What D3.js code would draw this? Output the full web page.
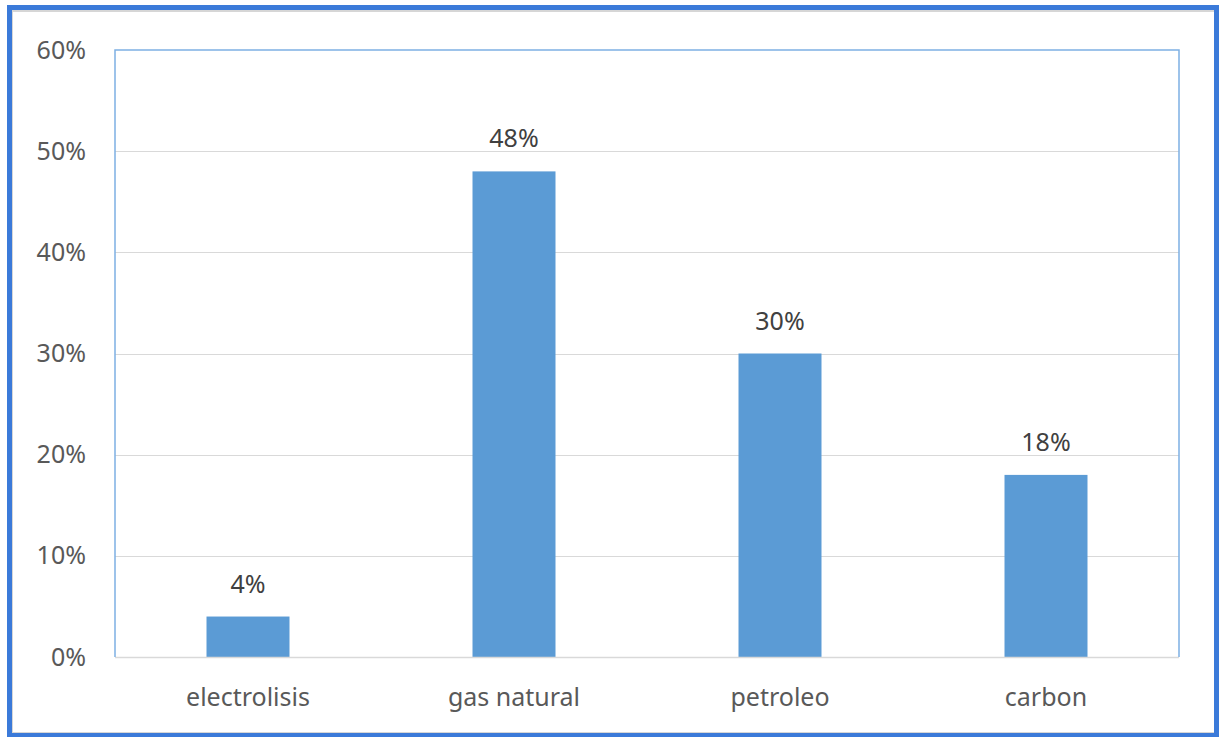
<!DOCTYPE html>
<html>
<head>
<meta charset="utf-8">
<script src="https://cdn.jsdelivr.net/npm/d3@7"></script>
<style>
  html, body { margin: 0; padding: 0; background: #fff; }
  svg { display: block; }
  text { font-family: "Noto Sans", "Open Sans", sans-serif; }
</style>
</head>
<body>
<div id="chart"></div>
<script>
// datos del grafico
var categories = ['electrolisis', 'gas natural', 'petroleo', 'carbon'];
var values = [4, 48, 30, 18];
var yTicks = [0, 10, 20, 30, 40, 50, 60];

var W = 1220, H = 737;
var plot = {left: 115, right: 1179, top: 50, bottom: 657};

var svg = d3.select('#chart').append('svg')
    .attr('width', W).attr('height', H);

// marco exterior
svg.append('rect')
    .attr('x', 1.5).attr('y', 1.5).attr('width', W - 3).attr('height', H - 3)
    .attr('fill', '#fff');
svg.append('rect')
    .attr('x', 12).attr('y', 11).attr('width', 1203).attr('height', 722)
    .attr('fill', 'none').attr('stroke', '#d6d6d6').attr('stroke-width', 2);
svg.append('rect')
    .attr('x', 9.5).attr('y', 7.5).attr('width', 1207).attr('height', 728)
    .attr('fill', 'none').attr('stroke', '#3b7ad9').attr('stroke-width', 5);

var x = d3.scaleBand()
    .domain(categories)
    .range([plot.left, plot.right])
    .paddingInner(0.688)
    .paddingOuter(0.344);

var y = d3.scaleLinear()
    .domain([0, 60])
    .range([plot.bottom, plot.top]);

// lineas de cuadricula
svg.append('g')
    .selectAll('line')
    .data(yTicks.filter(function(d){ return d > 0 && d < 60; }))
    .enter().append('line')
    .attr('x1', plot.left).attr('x2', plot.right)
    .attr('y1', function(d){ return Math.round(y(d)) + 0.5; })
    .attr('y2', function(d){ return Math.round(y(d)) + 0.5; })
    .attr('stroke', '#d9d9d9').attr('stroke-width', 1);

// barras
svg.append('g')
    .selectAll('rect')
    .data(values)
    .enter().append('rect')
    .attr('x', function(d, i){ return x(categories[i]); })
    .attr('width', x.bandwidth())
    .attr('y', function(d){ return y(d); })
    .attr('height', function(d){ return y(0) - y(d); })
    .attr('fill', '#5b9bd5');

// eje inferior
svg.append('line')
    .attr('x1', plot.left).attr('x2', plot.right)
    .attr('y1', plot.bottom + 0.5).attr('y2', plot.bottom + 0.5)
    .attr('stroke', '#d9d9d9').attr('stroke-width', 1.5);

// borde del area de trazado
svg.append('path')
    .attr('d', 'M' + plot.left + ',' + plot.bottom + 'V' + plot.top + 'H' + plot.right + 'V' + plot.bottom)
    .attr('fill', 'none').attr('stroke', '#7eb0e3').attr('stroke-width', 1.5);

// etiquetas eje y
var yAxis = d3.axisLeft(y)
    .tickValues(yTicks)
    .tickSize(0)
    .tickPadding(29)
    .tickFormat(function(d){ return d + '%'; });

var gy = svg.append('g')
    .attr('transform', 'translate(' + plot.left + ',0)')
    .call(yAxis);
gy.select('.domain').remove();
gy.selectAll('text')
    .attr('fill', '#595959')
    .style('font-size', '25px')
    .style('font-family', '"Noto Sans", sans-serif');

// etiquetas eje x
var xAxis = d3.axisBottom(x).tickSize(0).tickPadding(0);
var gx = svg.append('g')
    .attr('transform', 'translate(0,' + plot.bottom + ')')
    .call(xAxis);
gx.select('.domain').remove();
gx.selectAll('text')
    .attr('dy', null)
    .attr('y', 49)
    .attr('fill', '#595959')
    .style('font-size', '25px')
    .style('font-family', '"Noto Sans", sans-serif');

// etiquetas de valor
svg.append('g')
    .selectAll('text')
    .data(values)
    .enter().append('text')
    .attr('x', function(d, i){ return x(categories[i]) + x.bandwidth() / 2; })
    .attr('y', function(d){ return y(d) - 24; })
    .attr('text-anchor', 'middle')
    .attr('fill', '#404040')
    .style('font-size', '25px')
    .text(function(d){ return d + '%'; });
</script>
</body>
</html>
